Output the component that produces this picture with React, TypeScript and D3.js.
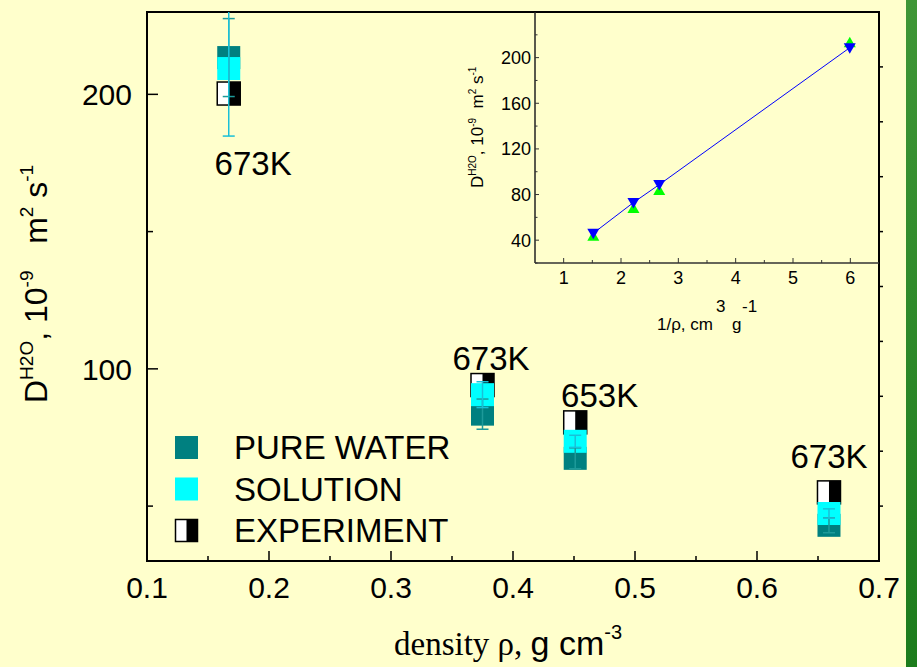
import React from "react";
import * as d3 from "d3";

// ---- data ----
const densities = [0.167, 0.375, 0.451, 0.659];
const pureWater = [213.4, 83.5, 67.4, 43.0];
const pureWaterErr = [14.2, 5.5, 3.8, 2.7];
const solution = [209.4, 90.6, 73.6, 47.3];
const solutionErr = [24.6, 4.7, 2.2, 1.7];
const experiment = [200.3, 94.1, 80.5, 55.0];
const tempLabels = ["673K", "673K", "653K", "673K"];
const labelRho = [0.187, 0.382, 0.471, 0.659];
const labelD = [170.5, 99.7, 86.2, 63.9];

const xTicks = [0.1, 0.2, 0.3, 0.4, 0.5, 0.6, 0.7];
const xMinor = [0.15, 0.25, 0.35, 0.45, 0.55, 0.65];
const yTicks = [100, 200];
const yMinor = [50, 150];
const yRightTicks = [50, 70, 90, 110, 130, 150, 170, 190, 210];

const legendItems = ["PURE WATER", "SOLUTION", "EXPERIMENT"];

// inset
const insetInvRho = [1.517, 2.217, 2.667, 5.99];
const insetBlue = [46.1, 73.0, 88.7, 208.7];
const insetGreen = [43.5, 67.8, 83.5, 213.0];
const insetXTicks = [1, 2, 3, 4, 5, 6];
const insetXMinor = [1.5, 2.5, 3.5, 4.5, 5.5];
const insetYTicks = [40, 80, 120, 160, 200];
const insetYMinor = [20, 60, 100, 140, 180, 220];

const W = 917;
const H = 667;
const BG = "#FFFFCC";
const TEAL = "#008080";
const CYAN = "#00FFFF";
const SANS = "'Liberation Sans', Arial, sans-serif";
const SERIF = "'Liberation Serif', 'Times New Roman', serif";

const x = d3.scaleLinear().domain([0.1, 0.7]).range([147, 879]);
const y = d3.scaleLinear().domain([30, 230]).range([561, 12]);
const ix = d3.scaleLinear().domain([0.5, 6.5]).range([535, 879]);
const iy = d3.scaleLinear().domain([20, 240]).range([263, 12]);

const SQ = 23;

function ExpSquare({ cx, cy, s }: { cx: number; cy: number; s: number }) {
  return (
    <g>
      <rect x={cx - s / 2} y={cy - s / 2} width={s} height={s} fill="#fff" />
      <rect x={cx} y={cy - s / 2} width={s / 2} height={s} fill="#000" />
      <rect x={cx - s / 2} y={cy - s / 2} width={s} height={s} fill="none" stroke="#000" strokeWidth={1.5} />
    </g>
  );
}

function ErrBar({ cx, v, e, color }: { cx: number; v: number; e: number; color: string }) {
  const y1 = y(v + e);
  const y2 = y(v - e);
  const cw = 6;
  return (
    <g stroke={color} strokeWidth={1.5}>
      <line x1={cx} x2={cx} y1={y1} y2={y2} />
      <line x1={cx - cw} x2={cx + cw} y1={y1} y2={y1} />
      <line x1={cx - cw} x2={cx + cw} y1={y2} y2={y2} />
    </g>
  );
}

function tri(cx: number, cy: number, r: number, up: boolean) {
  const h = r * 1.0;
  return up
    ? `M${cx},${cy - h} L${cx + r},${cy + h * 0.75} L${cx - r},${cy + h * 0.75} Z`
    : `M${cx},${cy + h} L${cx + r},${cy - h * 0.75} L${cx - r},${cy - h * 0.75} Z`;
}

export default function App() {
  const line = d3
    .line<number>()
    .x((_, i) => ix(insetInvRho[i]))
    .y((d) => iy(d));

  return (
    <svg
      width={W}
      height={H}
      style={{ position: "absolute", left: 0, top: 0, display: "block" }}
    >
      <defs>
        <linearGradient id="gstrip" x1="0" y1="0" x2="0" y2="1">
          <stop offset="0" stopColor="#3f9636" />
          <stop offset="1" stopColor="#1c7c1c" />
        </linearGradient>
        <clipPath id="plotclip">
          <rect x={147} y={12} width={732} height={549} />
        </clipPath>
      </defs>
      <rect x={0} y={0} width={W} height={H} fill={BG} />
      <rect x={906} y={0} width={11} height={H} fill="url(#gstrip)" />

      {/* main frame */}
      <rect x={147} y={12} width={732} height={549} fill="none" stroke="#000" strokeWidth={2} />

      {/* bottom ticks */}
      {xTicks.map((t) => (
        <line key={"xt" + t} x1={x(t)} x2={x(t)} y1={561} y2={551} stroke="#000" strokeWidth={1.5} />
      ))}
      {xMinor.map((t) => (
        <line key={"xm" + t} x1={x(t)} x2={x(t)} y1={561} y2={556} stroke="#000" strokeWidth={1.5} />
      ))}
      {xTicks.map((t) => (
        <text key={"xl" + t} x={x(t)} y={598} textAnchor="middle" fontFamily={SANS} fontSize={30} fill="#000">
          {t.toFixed(1)}
        </text>
      ))}

      {/* left ticks */}
      {yTicks.map((t) => (
        <line key={"yt" + t} x1={147} x2={158} y1={y(t)} y2={y(t)} stroke="#000" strokeWidth={1.5} />
      ))}
      {yMinor.map((t) => (
        <line key={"ym" + t} x1={147} x2={153} y1={y(t)} y2={y(t)} stroke="#000" strokeWidth={1.5} />
      ))}
      {yTicks.map((t) => (
        <text key={"yl" + t} x={132} y={y(t) + 11} textAnchor="end" fontFamily={SANS} fontSize={30} fill="#000">
          {t}
        </text>
      ))}
      {/* right ticks */}
      {yRightTicks.map((t) => (
        <line key={"yr" + t} x1={879} x2={883} y1={y(t)} y2={y(t)} stroke="#000" strokeWidth={1.5} />
      ))}

      {/* axis titles */}
      <text
        transform="translate(47,403) rotate(-90)"
        fontFamily={SANS}
        fontSize={32}
        fill="#000"
        style={{ whiteSpace: "pre" }}
      >
        <tspan>D</tspan>
        <tspan fontSize={19} dy={-14}>H2O</tspan>
        <tspan dy={14}>, 10</tspan>
        <tspan fontSize={19} dy={-14}>-9</tspan>
        <tspan dy={14}>   m</tspan>
        <tspan fontSize={19} dy={-14}>2</tspan>
        <tspan dy={14}> s</tspan>
        <tspan fontSize={19} dy={-14}>-1</tspan>
      </text>

      <text x={394} y={655} fill="#000" style={{ whiteSpace: "pre" }}>
        <tspan fontFamily={SERIF} fontSize={33}>density ρ, </tspan>
        <tspan fontFamily={SANS} fontSize={34}>g cm</tspan>
        <tspan fontFamily={SANS} fontSize={20} dy={-16}>-3</tspan>
      </text>

      {/* data */}
      <g clipPath="url(#plotclip)">
        {densities.map((d, i) => (
          <ExpSquare key={"e" + i} cx={x(d)} cy={y(experiment[i])} s={SQ} />
        ))}
        {densities.map((d, i) => (
          <rect key={"p" + i} x={x(d) - SQ / 2} y={y(pureWater[i]) - SQ / 2} width={SQ} height={SQ} fill={TEAL} />
        ))}
        {densities.map((d, i) => (
          <rect key={"s" + i} x={x(d) - SQ / 2} y={y(solution[i]) - SQ / 2} width={SQ} height={SQ} fill={CYAN} />
        ))}
        {densities.map((d, i) => (
          <ErrBar key={"pe" + i} cx={x(d)} v={pureWater[i]} e={pureWaterErr[i]} color="#1d9a9a" />
        ))}
        {densities.map((d, i) => (
          <ErrBar key={"se" + i} cx={x(d)} v={solution[i]} e={solutionErr[i]} color="#19c0d8" />
        ))}
      </g>

      {tempLabels.map((t, i) => (
        <text key={"tl" + i} x={x(labelRho[i])} y={y(labelD[i])} textAnchor="middle" fontFamily={SANS} fontSize={33} fill="#000">
          {t}
        </text>
      ))}

      {/* legend */}
      {legendItems.map((t, i) => {
        const cy = 447.5 + i * 41.5;
        return (
          <g key={"lg" + i}>
            {i === 0 && <rect x={175} y={cy - SQ / 2} width={SQ} height={SQ} fill={TEAL} />}
            {i === 1 && <rect x={175} y={cy - SQ / 2} width={SQ} height={SQ} fill={CYAN} />}
            {i === 2 && <ExpSquare cx={175 + SQ / 2} cy={cy} s={SQ - 1} />}
            <text x={234} y={cy + 11.5} fontFamily={SANS} fontSize={33} fill="#000">
              {t}
            </text>
          </g>
        );
      })}

      {/* inset */}
      <line x1={535} x2={535} y1={12} y2={263} stroke="#222" strokeWidth={1.5} />
      <line x1={535} x2={879} y1={263} y2={263} stroke="#333" strokeWidth={1.5} />
      {insetYTicks.map((t) => (
        <line key={"iyt" + t} x1={535} x2={539} y1={iy(t)} y2={iy(t)} stroke="#333" strokeWidth={1} />
      ))}
      {insetYMinor.map((t) => (
        <line key={"iym" + t} x1={535} x2={537.5} y1={iy(t)} y2={iy(t)} stroke="#333" strokeWidth={1} />
      ))}
      {insetYTicks.map((t) => (
        <text key={"iyl" + t} x={531} y={iy(t) + 6.5} textAnchor="end" fontFamily={SANS} fontSize={18} fill="#000">
          {t}
        </text>
      ))}
      {insetXTicks.map((t) => (
        <line key={"ixt" + t} x1={ix(t)} x2={ix(t)} y1={263} y2={258} stroke="#333" strokeWidth={1} />
      ))}
      {insetXMinor.map((t) => (
        <line key={"ixm" + t} x1={ix(t)} x2={ix(t)} y1={263} y2={260} stroke="#333" strokeWidth={1} />
      ))}
      {insetXTicks.map((t) => (
        <text key={"ixl" + t} x={ix(t)} y={284} textAnchor="middle" fontFamily={SANS} fontSize={18} fill="#000">
          {t}
        </text>
      ))}
      <text x={657} y={330} fontFamily={SANS} fontSize={17} fill="#000" style={{ whiteSpace: "pre" }}>
        1/ρ, cm
      </text>
      <text x={716} y={312} fontFamily={SANS} fontSize={17} fill="#000">3</text>
      <text x={732} y={330} fontFamily={SANS} fontSize={17} fill="#000">g</text>
      <text x={742} y={312} fontFamily={SANS} fontSize={17} fill="#000">-1</text>

      <text
        transform="translate(483,188) rotate(-90)"
        fontFamily={SANS}
        fontSize={17}
        fill="#000"
        style={{ whiteSpace: "pre" }}
      >
        <tspan>D</tspan>
        <tspan fontSize={10} dy={-7}>H2O</tspan>
        <tspan dy={7}>, 10</tspan>
        <tspan fontSize={10} dy={-7}>-9</tspan>
        <tspan dy={7}>  m</tspan>
        <tspan fontSize={10} dy={-7}>2</tspan>
        <tspan dy={7}> s</tspan>
        <tspan fontSize={10} dy={-7}>-1</tspan>
      </text>

      <path d={line(insetBlue) || ""} fill="none" stroke="#0000FF" strokeWidth={1} />
      {insetGreen.map((v, i) => (
        <path key={"ig" + i} d={tri(ix(insetInvRho[i]), iy(v), 6, true)} fill="#00FF00" />
      ))}
      {insetBlue.map((v, i) => (
        <path key={"ib" + i} d={tri(ix(insetInvRho[i]), iy(v), 6, false)} fill="#0000FF" />
      ))}
    </svg>
  );
}
